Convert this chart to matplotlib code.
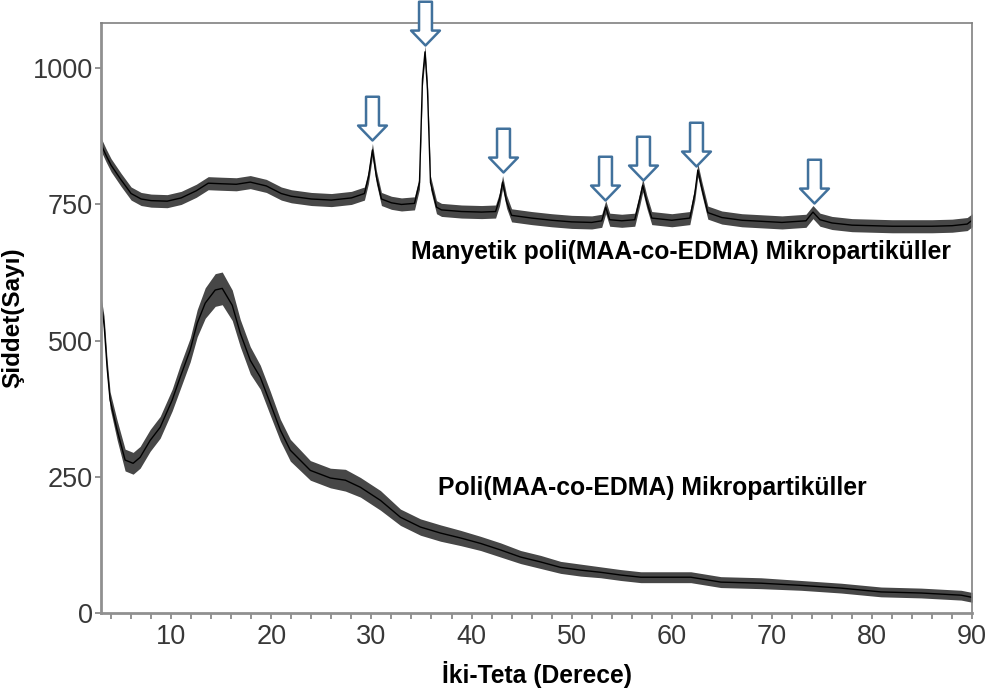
import matplotlib
matplotlib.use('Agg')
import matplotlib.pyplot as plt
import numpy as np
from matplotlib.path import Path
from matplotlib.ticker import MultipleLocator

plt.rcParams['font.family'] = ['Liberation Sans', 'DejaVu Sans']

# ---------------------------------------------------------------
# data (2-theta in degrees, counts)
# ---------------------------------------------------------------
# magnetic poly(MAA-co-EDMA) microparticles (upper trace)
x_mag = [3, 3.5, 4, 5, 6, 7, 8, 9.6, 11, 12.5,
         13.7, 15, 16.5, 17.9, 19.5, 21, 22, 24, 26, 28,
         29.3, 29.7, 30.1, 30.5, 31, 32, 33, 34.3, 34.8, 35.1,
         35.35, 35.6, 35.9, 36.5, 37, 39, 41, 42.4, 42.8, 43.1,
         43.5, 44, 46, 48, 50, 52, 53, 53.4, 53.8, 55,
         56.3, 56.8, 57.1, 57.5, 58, 60, 61.8, 62.3, 62.6, 63,
         63.6, 65, 67, 69, 71, 73.4, 74.1, 74.8, 76, 78,
         80, 82, 84, 86, 88, 89.5, 90]
y_mag = [860, 840, 822, 795, 770, 760, 757, 756, 762, 775,
         789, 788, 787, 791, 784, 770, 765, 760, 758, 762,
         770, 800, 850, 800, 760, 753, 750, 752, 790, 980,
         1030, 960, 790, 745, 740, 737, 736, 737, 760, 791,
         755, 730, 725, 721, 718, 717, 720, 745, 722, 720,
         722, 760, 785, 755, 725, 721, 725, 770, 813, 780,
         735, 726, 721, 719, 717, 720, 736, 722, 716, 712,
         711, 710, 710, 710, 711, 714, 721]
noise_mag = 12   # half-width of the noise band

# poly(MAA-co-EDMA) microparticles (lower trace)
x_pol = [3, 3.3, 3.6, 3.9, 4.6, 5.4, 6.2, 6.9, 7.9, 8.9,
         10.1, 10.9, 11.9, 12.6, 13.4, 14.4, 15.1, 16.1, 16.9, 17.9,
         18.9, 19.9, 20.9, 21.9, 23.9, 25.9, 27.4, 28.9, 30.9, 32.9,
         34.9, 36.9, 38.9, 40.9, 42.9, 44.9, 46.9, 48.9, 50.9, 52.9,
         54.9, 56.9, 58.9, 61.9, 64.9, 68.9, 72.9, 76.9, 80.9, 84.9,
         88.9, 90]
y_pol = [570, 530, 451, 391, 336, 281, 275, 286, 317, 341,
         391, 433, 483, 532, 569, 593, 596, 565, 514, 464,
         433, 385, 336, 299, 262, 248, 244, 231, 207, 176,
         158, 147, 138, 128, 116, 103, 94, 84, 79, 75,
         70, 66, 66, 66, 57, 55, 51, 46, 39, 37,
         33, 29]
noise_pol = [10, 15, 15, 15, 18, 20, 20, 20, 20, 20,
             20, 22, 22, 25, 28, 30, 30, 28, 25, 25,
             22, 22, 20, 20, 18, 18, 20, 18, 18, 15,
             15, 15, 14, 13, 13, 12, 12, 11, 11, 10,
             10, 10, 10, 10, 10, 10, 9, 9, 9, 9,
             9, 9]

# peaks marked with arrows (arrow tip position)
peak_x = [30.1, 35.4, 43.1, 53.3, 57.1, 62.4, 74.2]
peak_y = [868, 1042, 809, 758, 794, 820, 752]

label_mag = 'Manyetik poli(MAA-co-EDMA) Mikropartiküller'
label_pol = 'Poli(MAA-co-EDMA) Mikropartiküller'

# ---------------------------------------------------------------
fig = plt.figure(figsize=(9.91, 6.96), dpi=100)
ax = fig.add_axes([0.102, 0.119, 0.879, 0.848])

for xs, ys, ns in [(x_mag, y_mag, noise_mag), (x_pol, y_pol, noise_pol)]:
    xs = np.array(xs)
    ys = np.array(ys)
    ns = np.array(ns)
    ax.fill_between(xs, ys - ns, ys + ns, color='black', alpha=0.72, lw=0)
    ax.plot(xs, ys, color='black', lw=1.0)

# hollow down arrows
arrow = Path([(0, 0), (-14.5, 15), (-6.5, 15), (-6.5, 44), (6.5, 44),
              (6.5, 15), (14.5, 15), (0, 0)], closed=True)
ax.plot(peak_x, peak_y, ls='none', marker=arrow, ms=63,
        mfc='white', mec='#41719C', mew=1.8, clip_on=False, zorder=5)

ax.text(34, 662, label_mag, fontsize=17.8, fontweight='bold', va='center')
ax.text(36.6, 229, label_pol, fontsize=17.8, fontweight='bold', va='center')

ax.set_xlim(3, 90)
ax.set_ylim(0, 1083)
ax.xaxis.set_minor_locator(MultipleLocator(2))
ax.set_xticks([10, 20, 30, 40, 50, 60, 70, 80, 90])
ax.set_yticks([0, 250, 500, 750, 1000])

ax.tick_params(axis='both', which='both', colors='#808080', labelcolor='#383838',
               labelsize=19.5, direction='out')
ax.tick_params(axis='x', which='both', length=4, width=1.2)
ax.tick_params(axis='y', length=4, width=1.2, pad=2)

for side in ['left', 'bottom']:
    ax.spines[side].set_color('#909090')
    ax.spines[side].set_linewidth(2)
for side in ['top', 'right']:
    ax.spines[side].set_color('#808080')
    ax.spines[side].set_linewidth(1.2)

ax.set_xlabel('İki-Teta (Derece)', fontsize=17.7, fontweight='bold', labelpad=8)
ax.set_ylabel('Şiddet(Sayı)', fontsize=17.5, fontweight='bold', labelpad=6)

fig.savefig('out.png', dpi=100)
